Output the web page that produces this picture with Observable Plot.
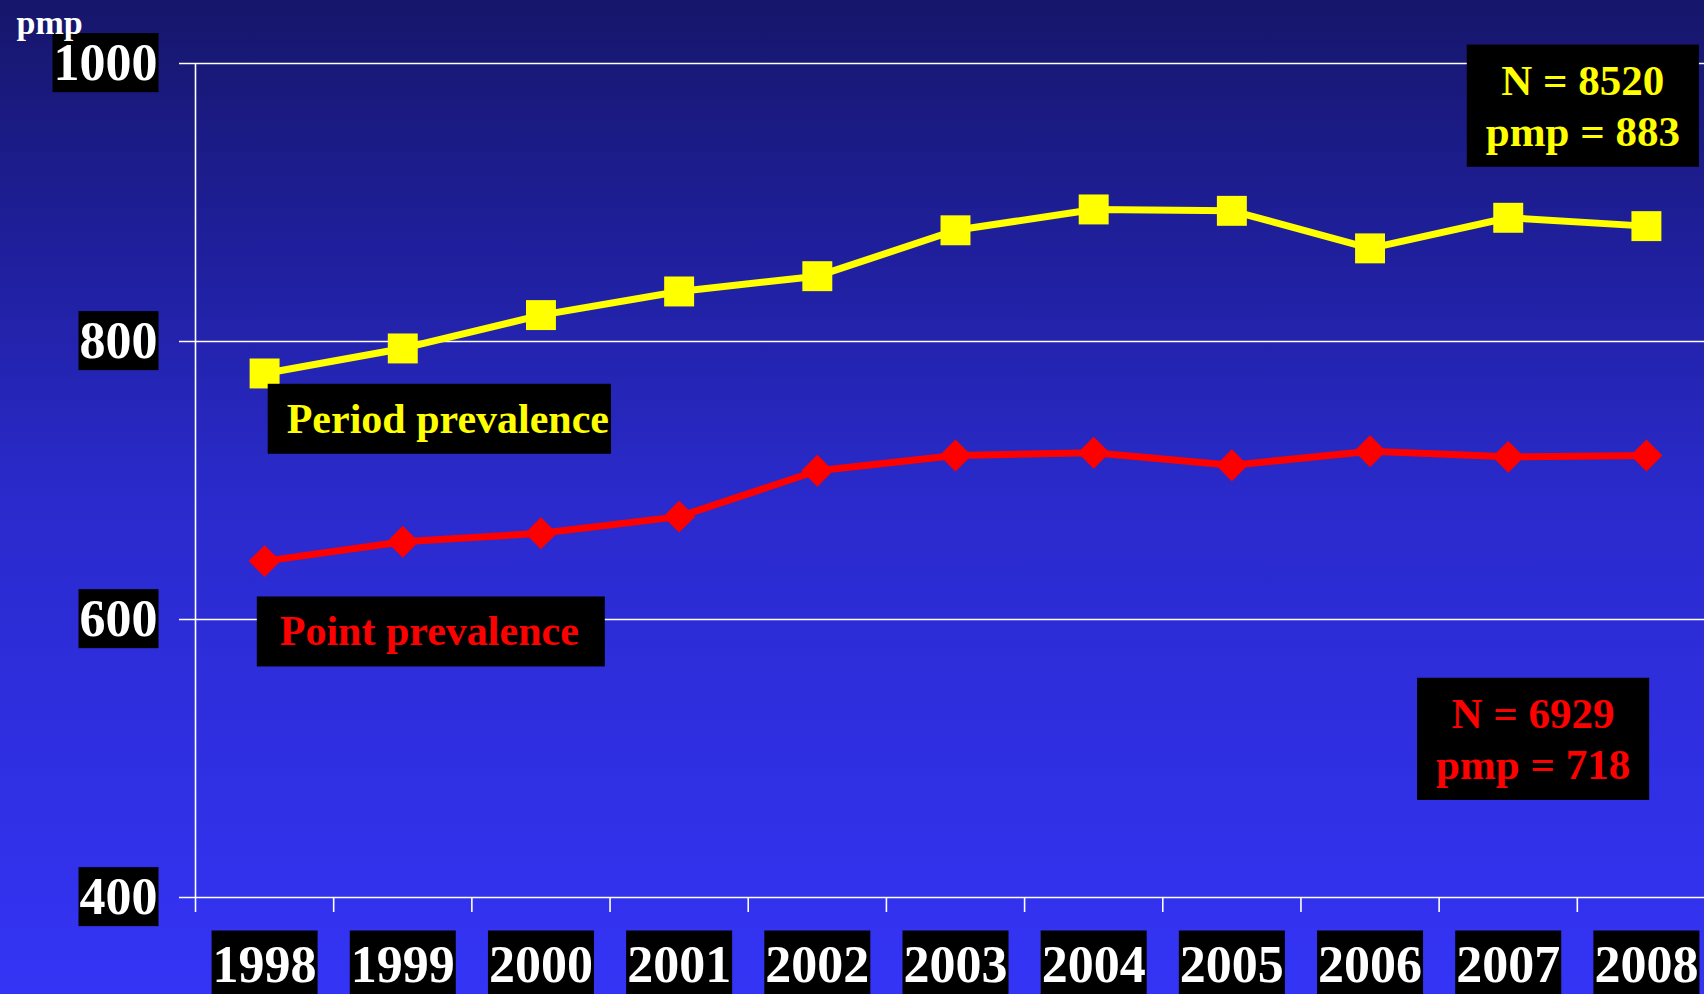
<!DOCTYPE html>
<html>
<head>
<meta charset="utf-8">
<script src="https://cdn.jsdelivr.net/npm/d3@7"></script>
<script src="https://cdn.jsdelivr.net/npm/@observablehq/plot@0.6"></script>
<style>
html, body { margin: 0; padding: 0; background: #3434f6; overflow: hidden; }
#chart svg { display: block; background: linear-gradient(to bottom, #16166b 0%, #1f1f9c 25%, #2a2acc 50%, #3434f6 100%) !important; }
</style>
</head>
<body>
<div id="chart"></div>
<script>
// ---- data ----
const years = [1998, 1999, 2000, 2001, 2002, 2003, 2004, 2005, 2006, 2007, 2008];
const periodPrevalence = [777, 795, 819, 836, 847, 880, 895, 894, 867, 889, 883];
const pointPrevalence  = [642, 656, 662, 674, 707, 718, 720, 711, 721, 717, 718];
const yTicks = [400, 600, 800, 1000];
const xTickBoundaries = years.map(y => y - 0.5);
const yAxisTitle = ["pmp"];
const seriesLabels = [
  {text: "Period prevalence", year: 1998.16, value: 744, color: "#ffff00"},
  {text: "Point prevalence",  year: 1998.11, value: 591, color: "#ff0000"}
];
const summaryLabels = [
  {text: "N = 8520\npmp = 883", year: 2007.54, value: 971,   color: "#ffff00"},
  {text: "N = 6929\npmp = 718", year: 2007.18, value: 515.5, color: "#ff0000"}
];

const period = years.map((year, i) => ({year, value: periodPrevalence[i]}));
const point  = years.map((year, i) => ({year, value: pointPrevalence[i]}));

const serif = "'Liberation Serif', 'Times New Roman', Times, serif";

const chart = Plot.plot({
  width: 1704,
  height: 994,
  marginLeft: 179,
  marginRight: 0,
  marginTop: 63,
  marginBottom: 97,
  style: {fontFamily: serif, fontWeight: "bold", background: "transparent", color: "white"},
  x: {type: "linear", domain: [1997.5, 2008.5], range: [195, 1715]},
  y: {domain: [400, 1000], axis: null},
  marks: [
    Plot.ruleY(yTicks, {stroke: "white", strokeWidth: 1.6}),
    Plot.ruleX([1997.5], {y1: 400, y2: 1000, stroke: "white", strokeWidth: 1.6}),
    Plot.axisX(xTickBoundaries, {tickSize: 15, stroke: "white", strokeWidth: 1.6, fill: "none", tickFormat: () => "", label: null, anchor: "bottom"}),
    Plot.text(yTicks, {y: d => d, text: d => String(d), frameAnchor: "left", dx: -22, textAnchor: "end", fill: "white", fontSize: 52, className: "boxed-tick"}),
    Plot.text(years, {x: d => d, text: d => String(d), frameAnchor: "bottom", dy: 84, textAnchor: "middle", fill: "white", fontSize: 52, className: "boxed-xtick"}),
    Plot.text(yAxisTitle, {y: () => 1029, text: d => d, frameAnchor: "left", dx: -163, textAnchor: "start", fill: "white", fontSize: 34}),
    Plot.line(period, {x: "year", y: "value", stroke: "#ffff00", strokeWidth: 7}),
    Plot.dot(period, {x: "year", y: "value", symbol: "square", r: 16.9, fill: "#ffff00", stroke: "none"}),
    Plot.line(point, {x: "year", y: "value", stroke: "#ff0000", strokeWidth: 7}),
    Plot.dot(point, {x: "year", y: "value", symbol: "diamond2", r: 14.4, fill: "#ff0000", stroke: "none"}),
    Plot.text(seriesLabels, {x: "year", y: "value", text: "text", fill: "color", fontSize: 42, textAnchor: "start", className: "boxed-label"}),
    Plot.text(summaryLabels, {x: "year", y: "value", text: "text", fill: "color", fontSize: 43, lineHeight: 1.19, textAnchor: "middle", className: "boxed-summary"})
  ]
});

document.getElementById("chart").appendChild(chart);

const NS = "http://www.w3.org/2000/svg";
function addBoxes(cls, pads) {
  chart.querySelectorAll(`g.${cls} text`).forEach((t, i) => {
    const [padL, padR, padT, padB] = pads(i);
    const b = t.getBBox();
    const r = document.createElementNS(NS, "rect");
    r.setAttribute("x", b.x - padL);
    r.setAttribute("y", b.y - padT);
    r.setAttribute("width", b.width + padL + padR);
    r.setAttribute("height", b.height + padT + padB);
    r.setAttribute("fill", "black");
    r.setAttribute("stroke", "none");
    const tr = t.getAttribute("transform");
    if (tr) r.setAttribute("transform", tr);
    t.parentNode.insertBefore(r, t);
  });
}
addBoxes("boxed-tick", () => [1, 1, 1, 1]);
addBoxes("boxed-xtick", () => [1, 1, 5, 6]);
addBoxes("boxed-label", i => i === 0 ? [19, 2, 12, 12] : [23, 26, 12, 12]);
addBoxes("boxed-summary", () => [19, 19, 12, 12]);
</script>
</body>
</html>
